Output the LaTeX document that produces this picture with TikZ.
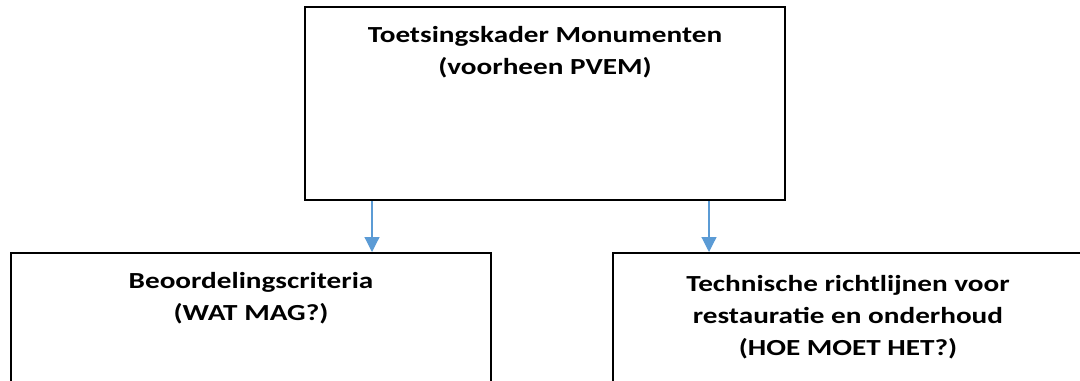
\documentclass[tikz,border=0pt]{standalone}
\usepackage{fontspec}
\setmainfont{Carlito}[FakeStretch=1.27]
\usetikzlibrary{arrows.meta}
\definecolor{arrowblue}{HTML}{5B9BD5}
\tikzset{
  box/.style={draw=black, line width=1pt, rectangle, inner sep=0pt},
  lbl/.style={font=\bfseries\fontsize{11.5}{16}\selectfont, align=center, anchor=base, inner sep=0pt},
  arr/.style={draw=arrowblue, line width=0.6pt, -{Triangle[width=7.5pt,length=7.5pt]}}
}
\begin{document}
\begin{tikzpicture}[x=0.5pt,y=-0.5pt]
\clip (0,0) rectangle (1080,380);
\fill[white] (0,0) rectangle (1080,380);
\node[box, minimum width=240pt, minimum height=96.5pt] (top) at (545,103.5) {};
\node[box, minimum width=240pt, minimum height=100pt] (lb) at (251,353) {};
\node[box, minimum width=240pt, minimum height=100pt] (rb) at (853,353) {};
\node[lbl] (tt) at (545,74) {Toetsingskader Monumenten\\(voorheen PVEM)};
\node[lbl] (lt) at (251,320) {Beoordelingscriteria\\(WAT MAG?)};
\node[lbl] (rt) at (848,355) {Technische richtlijnen voor\\restauratie en onderhoud\\(HOE MOET HET?)};
\coordinate (a1) at (372,0);
\coordinate (a2) at (709,0);
\draw[arr] (top.south -| a1) -- (lb.north -| a1);
\draw[arr] (top.south -| a2) -- (rb.north -| a2);
\end{tikzpicture}
\end{document}
